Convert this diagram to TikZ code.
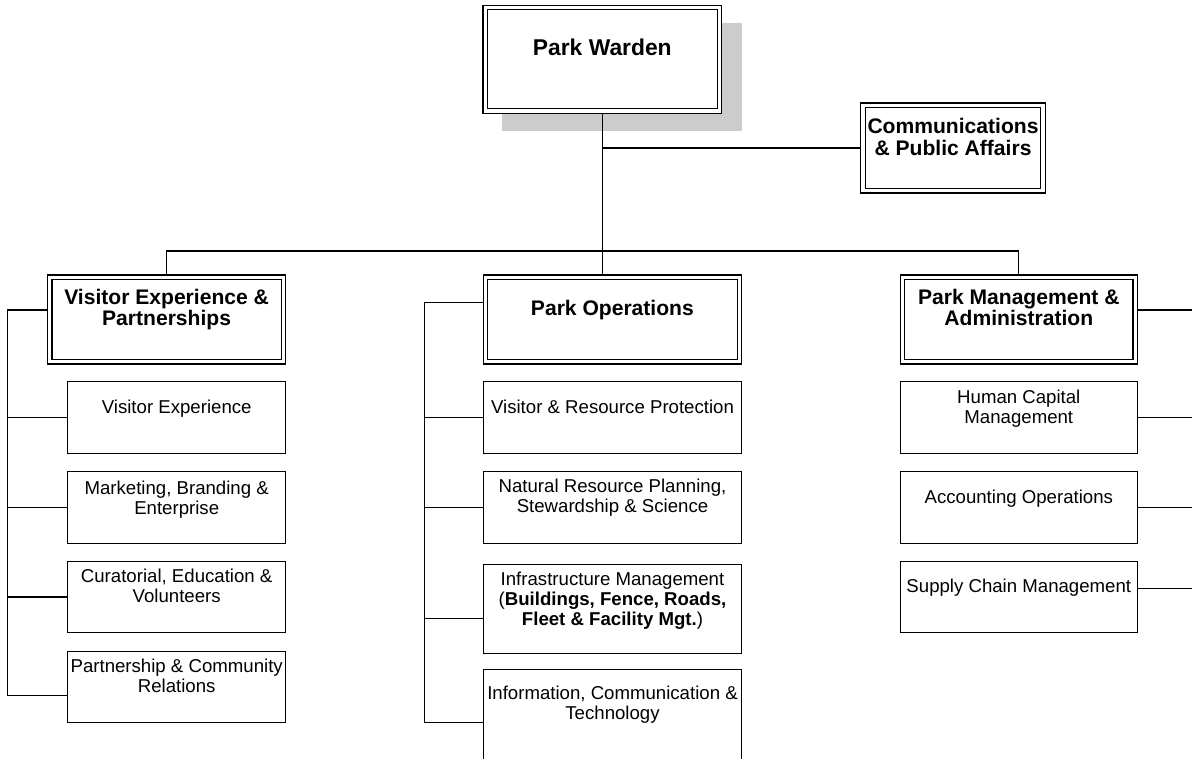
\documentclass[tikz,border=0pt]{standalone}
\usepackage{fontspec}
\setmainfont{Liberation Sans}

\begin{document}
\begin{tikzpicture}[x=0.02cm,y=-0.02cm]
\tikzstyle{head}=[rectangle, draw=black, fill=white, line width=0.7pt, double, double distance=1.8pt, outer sep=1.6pt, inner sep=0pt, minimum height=1.69cm]
\tikzstyle{unit}=[rectangle, draw=black, line width=0.6pt, inner sep=0pt, minimum height=1.43cm]
\tikzstyle{htext}=[align=center, inner sep=0pt, font=\fontsize{12}{12.4}\selectfont\bfseries]
\tikzstyle{utext}=[align=center, inner sep=0pt, font=\fontsize{10.6}{11.4}\selectfont]
\tikzstyle{connect}=[line width=0.6pt]
  \useasboundingbox (0,0) rectangle (1192,758);
  \coordinate (bus) at (602,251);
  \coordinate (lspine) at (7.5,0);
  \coordinate (mspine) at (424.5,0);
  \coordinate (edge) at (1196,0);
  % warden with shadow
  \fill[black!20] (502,23) rectangle (742,131);
  \node[head,minimum width=4.69cm,minimum height=2.07cm] (Warden) at (602.3,59.2) {};
  \node[htext,font=\fontsize{13}{14}\selectfont\bfseries] (tWarden) at ([yshift=-0.85cm]Warden.north) {Park Warden};
  \node[head,minimum width=3.6cm,minimum height=1.71cm] (Comms) at (953,148) {};
  \node[htext] (tComms) at ([yshift=-0.69cm]Comms.north) {Communications\\\& Public Affairs};
  % divisions
  \node[head,minimum width=4.67cm] (Visitor) at (166.6,319.5) {};
  \node[htext] (tVisitor) at ([yshift=-0.7cm]Visitor.north) {Visitor Experience \&\\Partnerships};
  \node[head,minimum width=5.08cm] (Ops) at (612.4,319.5) {};
  \node[htext] (tOps) at ([yshift=-0.71cm]Ops.north) {Park Operations};
  \node[head,minimum width=4.66cm] (Admin) at (1018.8,319.5) {};
  \node[htext] (tAdmin) at ([yshift=-0.66cm]Admin.north) {Park Management \&\\Administration};
  % visitor units
  \node[unit,minimum width=4.36cm] (V1) at (176.7,417.5) {};
  \node[unit,minimum width=4.36cm] (V2) at (176.7,507.4) {};
  \node[unit,minimum width=4.36cm] (V3) at (176.7,597) {};
  \node[unit,minimum width=4.36cm] (V4) at (176.7,686.9) {};
  \node[utext] (tV1) at ([yshift=-0.54cm]V1.north) {Visitor Experience};
  \node[utext] (tV2) at ([yshift=-0.58cm]V2.north) {Marketing, Branding \&\\Enterprise};
  \node[utext] (tV3) at ([yshift=-0.5cm]V3.north) {Curatorial, Education \&\\Volunteers};
  \node[utext] (tV4) at ([yshift=-0.5cm]V4.north) {Partnership \& Community\\Relations};
  % operations units
  \node[unit,minimum width=5.17cm] (O1) at (612.5,417.5) {};
  \node[unit,minimum width=5.17cm] (O2) at (612.5,507.4) {};
  \node[unit,minimum width=5.17cm,minimum height=1.78cm] (O3) at (612.5,608.8) {};
  \node[unit,minimum width=5.17cm,minimum height=2.14cm] (O4) at (612.5,722.7) {};
  \node[utext] (tO1) at ([yshift=-0.52cm]O1.north) {Visitor \& Resource Protection};
  \node[utext] (tO2) at ([yshift=-0.54cm]O2.north) {Natural Resource Planning,\\Stewardship \& Science};
  \node[utext] (tO3) at ([yshift=-0.74cm]O3.north) {Infrastructure Management\\(\textbf{Buildings, Fence, Roads,}\\\textbf{Fleet \& Facility Mgt.})};
  \node[utext] (tO4) at ([yshift=-0.72cm]O4.north) {Information, Communication \&\\Technology};
  % admin units
  \node[unit,minimum width=4.75cm] (A1) at (1018.8,417.5) {};
  \node[unit,minimum width=4.75cm] (A2) at (1018.8,507.4) {};
  \node[unit,minimum width=4.75cm] (A3) at (1018.8,597) {};
  \node[utext] (tA1) at ([yshift=-0.54cm]A1.north) {Human Capital\\Management};
  \node[utext] (tA2) at ([yshift=-0.56cm]A2.north) {Accounting Operations};
  \node[utext] (tA3) at ([yshift=-0.54cm]A3.north) {Supply Chain Management};

  % connectors
  \draw[connect] (Warden.south) -- (Warden.south |- Ops.north);
  \draw[connect] (Comms.west) -- (Comms.west -| Warden.south);
  \draw[connect] (Visitor.north) |- (bus) -| (Admin.north);

  \draw[connect] ([yshift=0.19cm]Visitor.west) -| ([yshift=-0.18cm]V4.west -| lspine) -- ([yshift=-0.18cm]V4.west);
  \foreach \n in {V1,V2,V3}
    \draw[connect] (\n.west) -- (\n.west -| lspine);

  \draw[connect] ([yshift=0.34cm]Ops.west) -| (O4.west -| mspine) -- (O4.west);
  \foreach \n in {O1,O2}
    \draw[connect] (\n.west) -- (\n.west -| mspine);
  \draw[connect] ([yshift=-0.19cm]O3.west) -- ([yshift=-0.19cm]O3.west -| mspine);

  \draw[connect] ([yshift=0.19cm]Admin.east) -- ([yshift=0.19cm]Admin.east -| edge);
  \foreach \n in {A1,A2}
    \draw[connect] (\n.east) -- (\n.east -| edge);
  \draw[connect] ([yshift=0.17cm]A3.east) -- ([yshift=0.17cm]A3.east -| edge);
\end{tikzpicture}
\end{document}
